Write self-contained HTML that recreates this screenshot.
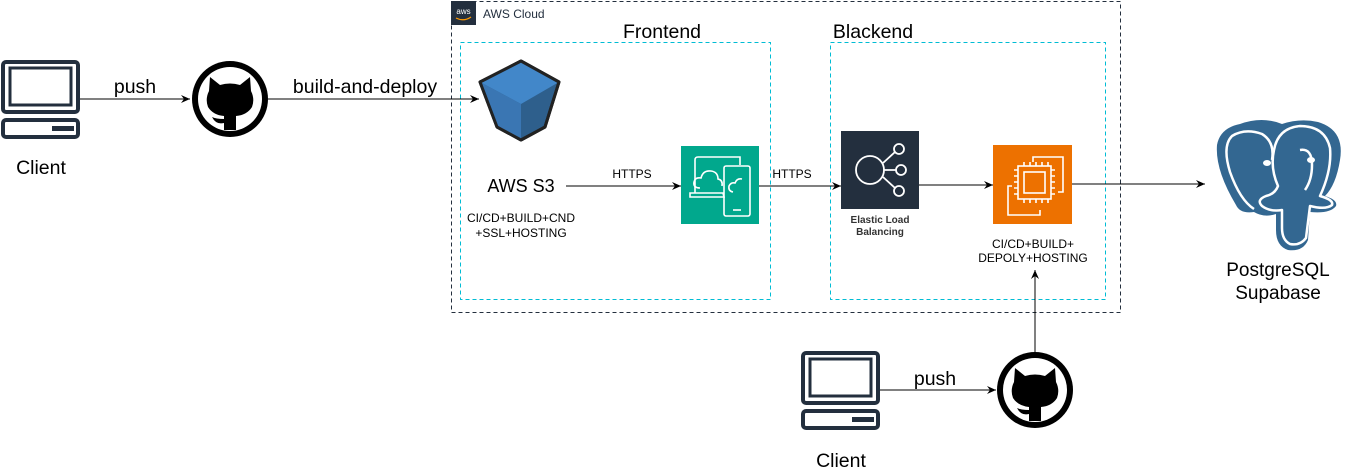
<!DOCTYPE html>
<html><head><meta charset="utf-8"><style>
html,body{margin:0;padding:0;background:#fff;}
svg{display:block;font-family:"Liberation Sans",Arial,sans-serif;}
</style></head><body>
<svg width="1348" height="474" viewBox="0 0 1348 474" xmlns="http://www.w3.org/2000/svg">
<defs>
<marker id="a" markerWidth="10" markerHeight="10" refX="9" refY="5" orient="auto" markerUnits="userSpaceOnUse">
<path d="M0,1 L9,5 L0,9 L3,5 Z" fill="#000"/></marker>
<g id="mon">
<rect x="3" y="2" width="75" height="50" rx="3" fill="none" stroke="#232f3e" stroke-width="4"/>
<rect x="10" y="8" width="61" height="37" fill="none" stroke="#232f3e" stroke-width="3"/>
<rect x="3" y="60" width="75" height="17" rx="3" fill="none" stroke="#232f3e" stroke-width="4"/>
<rect x="52" y="66" width="22" height="5" fill="#232f3e"/>
</g>
<g id="gh">
<circle cx="0" cy="0" r="38" fill="#000"/>
<circle cx="0" cy="0" r="32" fill="#fff"/>
<path d="M-20,-22 L-10,-14 Q0,-17 10,-14 L20,-22 L21,-8 Q25,0 22,8 Q17,16 6,17 L6,31 L-6,31 L-6,24 Q-14,26 -18,18 Q-14,20 -6,20 L-6,17 Q-17,16 -22,8 Q-25,0 -21,-8 Z" fill="#000"/>
</g>
</defs>

<rect x="451.5" y="1.5" width="669" height="311" fill="none" stroke="#232f3e" stroke-dasharray="4,3"/>
<rect x="451" y="1" width="25" height="24" fill="#232f3e"/>
<text x="463.5" y="14" font-size="8" fill="#fff" text-anchor="middle">aws</text>
<path d="M456,18 Q464,22 471,17" stroke="#f90" stroke-width="1.2" fill="none"/>
<text x="483" y="18" font-size="12" fill="#232f3e">AWS Cloud</text>

<rect x="460.5" y="42.5" width="310" height="257" fill="none" stroke="#00bcd4" stroke-dasharray="4,3"/>
<text x="662" y="38" font-size="19.5" text-anchor="middle">Frontend</text>
<rect x="830.5" y="42.5" width="275" height="257" fill="none" stroke="#00bcd4" stroke-dasharray="4,3"/>
<text x="873" y="38" font-size="19.5" text-anchor="middle">Blackend</text>

<use href="#mon" x="0" y="60"/>
<text x="41" y="174" font-size="19.5" text-anchor="middle">Client</text>
<line x1="80" y1="99" x2="190" y2="99" stroke="#000" marker-end="url(#a)"/>
<text x="135" y="93" font-size="19.5" text-anchor="middle">push</text>
<use href="#gh" x="230" y="99"/>
<line x1="268" y1="99" x2="479" y2="99" stroke="#000" marker-end="url(#a)"/>
<text x="365" y="93" font-size="19.5" text-anchor="middle">build-and-deploy</text>

<polygon points="521,61 480,82 497,127 521,140 545,127 559,82" fill="#2e5f8c" stroke="#222" stroke-width="3" stroke-linejoin="round"/>
<polygon points="521,61 480,82 521,104 559,82" fill="#4287c9"/>
<polygon points="480,82 521,104 521,140 497,127" fill="#3a76b3"/>
<polygon points="521,61 480,82 497,127 521,140 545,127 559,82" fill="none" stroke="#222" stroke-width="3" stroke-linejoin="round"/>
<text x="521" y="192" font-size="18" text-anchor="middle">AWS S3</text>
<text x="521" y="222" font-size="12" text-anchor="middle">CI/CD+BUILD+CND</text>
<text x="521" y="237" font-size="12" text-anchor="middle">+SSL+HOSTING</text>

<line x1="566" y1="186" x2="681" y2="186" stroke="#000" marker-end="url(#a)"/>
<text x="632" y="178" font-size="12" text-anchor="middle">HTTPS</text>

<rect x="681" y="146" width="78" height="78" fill="#01a88d"/>
<g fill="none" stroke="#fff" stroke-width="1.6">
<path d="M695,193 L695,160 Q695,157 698,157 L740,157 L740,165"/>
<path d="M690,193 L723,193 L724,197 L690,197 Z"/>
<rect x="724" y="166" width="26" height="50" rx="2"/>
<line x1="733" y1="210" x2="741" y2="210"/>
<path d="M700,188 Q693,188 694,182 Q695,177 701,178 Q703,170 711,171 Q718,172 718,179 Q723,180 722,186"/>
<path d="M733,192 Q728,191 729,186 Q731,182 735,183 Q737,178 742,179"/>
</g>

<line x1="759" y1="186" x2="841" y2="186" stroke="#000" marker-end="url(#a)"/>
<text x="792" y="178" font-size="12" text-anchor="middle">HTTPS</text>

<rect x="841" y="131" width="78" height="78" fill="#232f3e"/>
<g fill="none" stroke="#fff" stroke-width="1.8">
<circle cx="870" cy="170" r="14"/>
<circle cx="899" cy="149" r="5"/>
<circle cx="901" cy="170" r="5"/>
<circle cx="899" cy="191" r="5"/>
<path d="M883,163 L895,152 M884,170 L896,170 M883,177 L895,188"/>
</g>
<text x="880" y="223" font-size="10" font-weight="bold" fill="#333" text-anchor="middle">Elastic Load</text>
<text x="880" y="235" font-size="10" font-weight="bold" fill="#333" text-anchor="middle">Balancing</text>

<line x1="919" y1="185" x2="993" y2="185" stroke="#000" marker-end="url(#a)"/>

<rect x="993" y="145" width="79" height="79" fill="#ed7100"/>
<g fill="none" stroke="#fff" stroke-width="1.6">
<path d="M1033,162 L1033,157 L1063,157 L1063,192 L1058,192"/>
<path d="M1012,186 L1008,186 L1008,215 L1040,215 L1040,210"/>
<rect x="1018" y="166" width="33" height="33"/>
<rect x="1024" y="172" width="21" height="21"/>
<path d="M1024,166 v-4 M1030,166 v-4 M1036,166 v-4 M1042,166 v-4 M1048,166 v-4 M1024,199 v4 M1030,199 v4 M1036,199 v4 M1042,199 v4 M1048,199 v4 M1018,170 h-4 M1018,176 h-4 M1018,182 h-4 M1018,188 h-4 M1018,194 h-4 M1051,170 h4 M1051,176 h4 M1051,182 h4 M1051,188 h4 M1051,194 h4"/>
</g>
<text x="1033" y="248" font-size="12" text-anchor="middle">CI/CD+BUILD+</text>
<text x="1033" y="262" font-size="12" text-anchor="middle">DEPOLY+HOSTING</text>

<line x1="1072" y1="184" x2="1205" y2="184" stroke="#000" marker-end="url(#a)"/>

<path d="M1240,124 Q1262,116 1282,124 Q1300,118 1318,122 Q1345,130 1340,160 Q1336,185 1325,196 Q1338,200 1336,206 Q1330,214 1310,212 L1308,240 Q1303,252 1288,250 Q1276,246 1276,230 L1276,214 Q1264,218 1254,212 Q1240,214 1236,205 Q1215,170 1217,145 Q1220,128 1240,124 Z" fill="#336791"/>
<g fill="none" stroke="#fff" stroke-width="2.5" stroke-linejoin="round">
<path d="M1254,209 Q1240,200 1230,172 Q1222,146 1232,136 Q1245,128 1262,134 Q1275,142 1272,160"/>
<path d="M1274,150 Q1278,128 1300,126 Q1325,126 1330,148 Q1332,170 1320,196 Q1334,200 1332,205 Q1326,210 1310,206 L1306,238 Q1300,246 1290,244 Q1282,240 1282,228 L1282,210 Q1270,212 1262,206 Q1256,200 1266,196 Q1275,194 1278,186 Q1270,168 1274,150 Z"/>
<path d="M1300,150 Q1312,148 1312,165 Q1312,180 1305,190"/>
</g>
<ellipse cx="1267" cy="163" rx="4" ry="3" fill="#fff"/>
<ellipse cx="1311" cy="160" rx="4" ry="3" fill="#fff"/>
<text x="1278" y="276" font-size="19" text-anchor="middle">PostgreSQL</text>
<text x="1278" y="299" font-size="19" text-anchor="middle">Supabase</text>

<use href="#mon" x="800" y="351"/>
<text x="841" y="467" font-size="19.5" text-anchor="middle">Client</text>
<line x1="880" y1="390" x2="996" y2="390" stroke="#000" marker-end="url(#a)"/>
<text x="935" y="385" font-size="19.5" text-anchor="middle">push</text>
<use href="#gh" x="1035" y="390"/>
<line x1="1035" y1="352" x2="1035" y2="270" stroke="#000" marker-end="url(#a)"/>
</svg>
</body></html>
